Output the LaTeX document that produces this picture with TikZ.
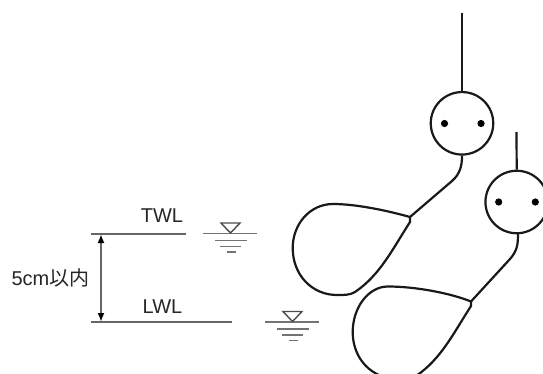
\documentclass[tikz,border=0pt]{standalone}
\usepackage{fontspec}
\setmainfont{Liberation Sans}
\newfontfamily\cjkfont{Noto Sans CJK JP}
\usetikzlibrary{arrows.meta}
\tikzset{
  float/.style={line width=2.2pt,black!90},
  lvl/.style={line width=2pt,black!60},
  wl/.style={line width=1.9pt,black!55},
  lab/.style={inner sep=0pt,text=black!85,font=\fontsize{20}{22}\selectfont},
  dot/.style={circle,fill=black,inner sep=0pt,minimum size=7.2pt},
  ball/.style={circle,draw=black!90,line width=2.2pt,inner sep=0pt,minimum size=62.5pt}
}
\begin{document}
\begin{tikzpicture}[x=1pt,y=-1pt]
\useasboundingbox (0,0) rectangle (543,374);
\clip (0,0) rectangle (543,373.5);
% levels
\coordinate (ta) at (91,233.5); \coordinate (tb) at (186,233.5);
\coordinate (la) at (91,322); \coordinate (lb) at (232,322);
\coordinate (aa) at (101,234); \coordinate (ab) at (101,322);
\draw[lvl] (ta) -- (tb);
\draw[lvl] (la) -- (lb);
\draw[line width=1.8pt,black!60,{Latex[length=9pt,width=7pt,black]}-{Latex[length=9pt,width=7pt,black]}] (aa) -- (ab);
\node[lab,anchor=center] (twl) at (162,216) {TWL};
\node[lab,anchor=center] (lwl) at (162.5,307) {LWL};
\node[lab,anchor=east] (dist) at (89.5,278) {5cm{\cjkfont 以内}};
% water-level symbols
\foreach \dx/\dy in {0/0,62/88.5}{
  \begin{scope}[shift={(\dx,\dy)}]
    \draw[wl] (203,233.5) -- (257,233.5);
    \draw[wl] (215,240.5) -- (247,240.5);
    \draw[wl] (220,246.5) -- (241,246.5);
    \draw[wl] (226.5,252) -- (235.5,252);
    \draw[line width=1.4pt,black!70,line join=miter] (221,223) -- (240,223) -- (230.5,233) -- cycle;
  \end{scope}
}
% floats
\node[ball] (b1) at (462,123.3) {};
\node[dot] (d1a) at (444.5,123.5) {};
\node[dot] (d1b) at (481,123.5) {};
\coordinate (w1) at (462,13);
\draw[float] (w1) -- (b1.north);
\coordinate (t1) at (410,217);
\draw[float] (b1.south) .. controls (462,166) and (460,174) .. (452,181) -- (t1);
\draw[float,line join=round] (t1) .. controls (385,210) and (355,204) .. (333,204)
  .. controls (310,204) and (292.7,224) .. (292.7,248)
  .. controls (292.7,275) and (312,295) .. (337,295)
  .. controls (345,295) and (350,295) .. (355,292)
  .. controls (380,275) and (392,250) .. (410,222) -- cycle;
\node[ball] (b2) at (516.7,202) {};
\node[dot] (d2a) at (498.7,202) {};
\node[dot] (d2b) at (535.3,202) {};
\coordinate (w2) at (516.5,132);
\draw[float] (w2) -- (b2.north);
\coordinate (t2) at (471,301.5);
\draw[float] (518,233.7) .. controls (518,245) and (517,251) .. (510,259) -- (t2);
\draw[float,line join=round] (t2) .. controls (450,293) and (415,286.5) .. (388,286.5)
  .. controls (368,286.5) and (352.7,308) .. (352.7,332)
  .. controls (352.7,359) and (372,379) .. (398,379)
  .. controls (406,379) and (411,379) .. (416,376)
  .. controls (441,359) and (453,334) .. (471,306) -- cycle;
\end{tikzpicture}
\end{document}
